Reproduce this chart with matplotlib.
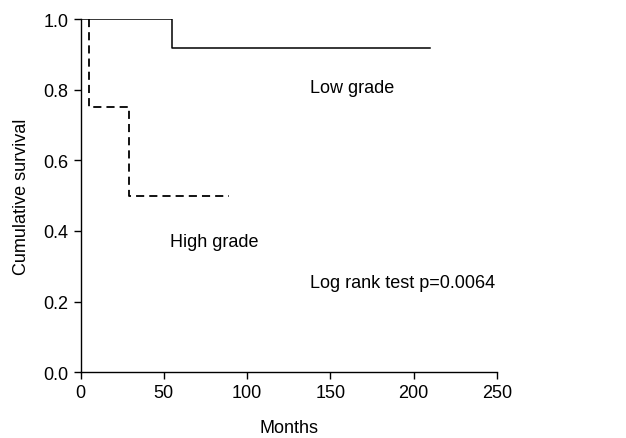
import matplotlib
matplotlib.use("Agg")
import matplotlib.pyplot as plt

plt.rcParams['font.family'] = ['Liberation Sans', 'DejaVu Sans']

# Kaplan-Meier step data
low_months = [0, 55, 210]
low_surv = [1.0, 0.917, 0.917]
high_months = [5, 5, 29, 89]
high_surv = [1.0, 0.75, 0.5, 0.5]

xticks = [0, 50, 100, 150, 200, 250]
yticks = [0.0, 0.2, 0.4, 0.6, 0.8, 1.0]

fig = plt.figure(figsize=(6.26, 4.39), dpi=100)
ax = fig.add_axes([0.1286, 0.150, 0.6654, 0.804])

ax.step(low_months, low_surv, where='post', color='black', lw=1.1)
line, = ax.step(high_months, high_surv, where='post', color='black', lw=1.3)
line.set_dashes([4.5, 2.8])

ax.text(137.5, 0.807, "Low grade", fontsize=13, va='center')
ax.text(53.5, 0.369, "High grade", fontsize=13, va='center')
ax.text(137.5, 0.254, "Log rank test p=0.0064", fontsize=13, va='center')

ax.set_xlim(0, 250)
ax.set_ylim(0, 1.0)
ax.set_xticks(xticks)
ax.set_yticks(yticks)
ax.set_yticklabels([f"{v:.1f}" for v in yticks])
ax.tick_params(direction='out', length=5, width=1, labelsize=13, colors='black')
ax.spines['top'].set_visible(False)
ax.spines['right'].set_visible(False)
ax.spines['left'].set_linewidth(1)
ax.spines['bottom'].set_linewidth(1)
ax.set_xlabel("Months", fontsize=13, labelpad=13)
ax.set_ylabel("Cumulative survival", fontsize=13, labelpad=10)

fig.savefig("out.png", dpi=100)
